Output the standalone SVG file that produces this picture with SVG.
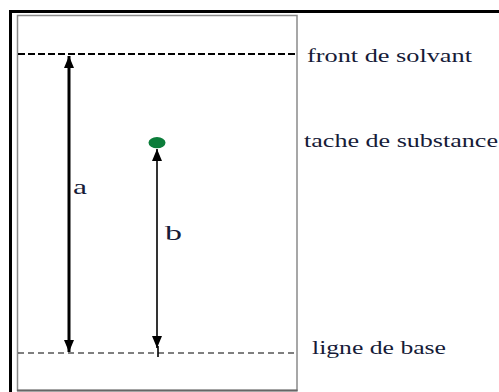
<svg xmlns="http://www.w3.org/2000/svg" width="499" height="392" viewBox="0 0 499 392">
<style>
.lbl{font-family:"Liberation Serif","Times New Roman",serif;fill:#161b38}
.ax{stroke:#000;fill:none}
</style>
<defs>
<marker id="ah" viewBox="0 0 12 10" refX="12" refY="5" markerWidth="12" markerHeight="10" markerUnits="userSpaceOnUse" orient="auto-start-reverse">
<path d="M0,0 L12,5 L0,10 z" fill="#000"/>
</marker>
</defs>
<rect width="499" height="392" fill="#fff"/>
<g id="frame">
<path d="M10.5,392 V11.5 H499" fill="none" stroke="#000" stroke-width="3"/>
</g>
<g id="plate">
<rect x="17.5" y="15.5" width="279.5" height="375" fill="none" stroke="#8a8a8a" stroke-width="1.5"/>
<line x1="17" y1="390.5" x2="297.5" y2="390.5" stroke="#666" stroke-width="2"/>
</g>
<g id="front">
<line x1="18" y1="54" x2="296" y2="54" stroke="#000" stroke-width="2" stroke-dasharray="7,3"/>
<text class="lbl" x="307" y="62" font-size="19" textLength="165" lengthAdjust="spacingAndGlyphs">front de solvant</text>
</g>
<g id="base">
<line x1="18" y1="353" x2="296" y2="353" stroke="#000" stroke-width="1.2" stroke-dasharray="6,4"/>
<text class="lbl" x="312" y="354" font-size="18" textLength="134" lengthAdjust="spacingAndGlyphs">ligne de base</text>
</g>
<g id="spot">
<ellipse cx="157" cy="142.7" rx="8.5" ry="5.6" fill="#0b7d3a"/>
<text class="lbl" x="304" y="147" font-size="18" textLength="194" lengthAdjust="spacingAndGlyphs">tache de substance</text>
</g>
<g id="connectors">
<line class="ax" x1="69" y1="56" x2="69" y2="352" stroke-width="3" marker-start="url(#ah)" marker-end="url(#ah)"/>
<line class="ax" x1="157" y1="149" x2="157" y2="348" stroke-width="1.6" marker-start="url(#ah)" marker-end="url(#ah)"/>
<line class="ax" x1="158" y1="346" x2="158" y2="357" stroke-width="1.6"/>
</g>
<g id="labels">
<text class="lbl" x="73" y="194" font-size="22" textLength="14" lengthAdjust="spacingAndGlyphs">a</text>
<text class="lbl" x="165" y="240" font-size="22" textLength="17" lengthAdjust="spacingAndGlyphs">b</text>
</g>
</svg>
